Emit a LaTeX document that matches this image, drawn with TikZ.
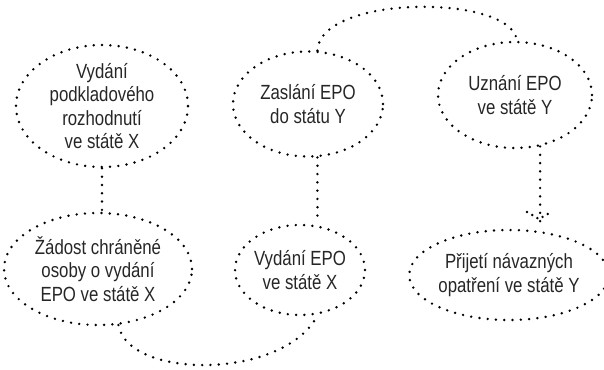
\documentclass[tikz,border=0pt]{standalone}
\usepackage{fontspec}
\setmainfont{Liberation Sans}[FakeStretch=0.82]
\usetikzlibrary{shapes.geometric,calc}
\tikzset{
  dotline/.style={draw=black, line width=2.7pt, line cap=round, dash pattern=on 0pt off 8.3pt},
  bubble/.style={ellipse, dotline, inner sep=0pt, align=center, text=black!85,
    font=\fontsize{20.5}{23.5}\selectfont},
}
\begin{document}
\begin{tikzpicture}[x=1pt,y=-1pt]
\useasboundingbox (0,0) rectangle (604,369);
\node[bubble, minimum width=172pt, minimum height=122pt] (e1) at (102,106) {Vydání\\podkladového\\rozhodnutí\\ve státě X};
\node[bubble, minimum width=188pt, minimum height=112pt] (e2) at (98,269) {Žádost chráněné\\osoby o vydání\\EPO ve státě X};
\node[bubble, minimum width=102pt, minimum height=90pt] (e3) at (300,270) {Vydání EPO\\ve státě X};
\node[bubble, minimum width=150pt, minimum height=105pt] (e4) at (308,104) {Zaslání EPO\\do státu Y};
\node[bubble, minimum width=154pt, minimum height=106pt] (e5) at (515,95) {Uznání EPO\\ve státě Y};
\node[bubble, minimum width=188pt, minimum height=90pt] (e6) at (509,275) {Přijetí návazných\\opatření ve státě Y};
% connectors
\draw[dotline] (e1.south) -- (e1.south |- e2.north);
\draw[dotline] (e2.-70) .. controls (128,380) and (285,380) .. (e3.-68);
\draw[dotline] (e4.-80) -- (e4.-80 |- e3.north);
\draw[dotline] (e4.80) .. controls (320,-6) and (512,-6) .. (e5.88);
\coordinate (tip) at (539,219);
\draw[dotline] (e5.-64.5) -- (e5.-64.5 |- e6.north);
\draw[dotline, dash pattern=on 0pt off 6pt] ($(tip)+(-12,-7)$) -- (tip) -- ($(tip)+(12,-7)$);
\end{tikzpicture}
\end{document}
